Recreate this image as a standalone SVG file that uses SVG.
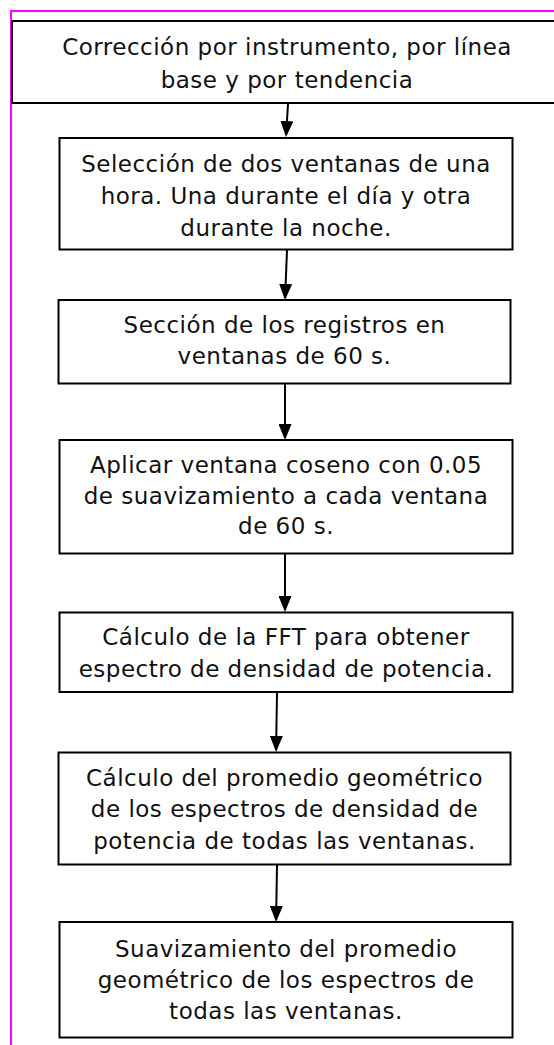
<svg xmlns="http://www.w3.org/2000/svg" width="554" height="1045" viewBox="0 0 554 1045">
<defs>
<style>
.box{fill:#fff;stroke:#000;stroke-width:2}
.t{font-family:"DejaVu Sans","Liberation Sans",sans-serif;font-size:23px;letter-spacing:0.5px;fill:#111;text-anchor:middle}
.c{stroke:#000;stroke-width:2;fill:none;marker-end:url(#ah)}
.frame{stroke:#ff00ff;stroke-width:2;fill:none}
</style>
<marker id="ah" markerUnits="userSpaceOnUse" viewBox="0 0 16 13" markerWidth="16" markerHeight="13" refX="14" refY="6.5" orient="auto">
<path d="M0,0 L16,6.5 L0,13 z" fill="#000"/>
</marker>
</defs>
<rect width="554" height="1045" fill="#fff"/>
<path class="frame" d="M11,1045 L11,11 L554,11"/>
<g id="connectors">
<line class="c" x1="288" y1="104" x2="286.1" y2="135"/>
<line class="c" x1="287" y1="250" x2="285.1" y2="298"/>
<line class="c" x1="285" y1="384" x2="285" y2="438"/>
<line class="c" x1="285" y1="554" x2="285" y2="610"/>
<line class="c" x1="277" y1="692" x2="276.1" y2="750"/>
<line class="c" x1="277" y1="865" x2="276.1" y2="920"/>
</g>
<g id="n1">
<rect class="box" x="12" y="21" width="560" height="82"/>
<text class="t" x="287" y="54.5">Corrección por instrumento, por línea</text>
<text class="t" x="287" y="87.5">base y por tendencia</text>
</g>
<g id="n2">
<rect class="box" x="59.5" y="138" width="453" height="111.5"/>
<text class="t" x="286" y="171.5">Selección de dos ventanas de una</text>
<text class="t" x="286" y="203.5">hora. Una durante el día y otra</text>
<text class="t" x="286" y="236">durante la noche.</text>
</g>
<g id="n3">
<rect class="box" x="58.5" y="300" width="452" height="83.5"/>
<text class="t" x="284.5" y="332.5">Sección de los registros en</text>
<text class="t" x="284.5" y="364">ventanas de 60 s.</text>
</g>
<g id="n4">
<rect class="box" x="59.5" y="440" width="453" height="113.5"/>
<text class="t" x="286" y="472.5">Aplicar ventana coseno con 0.05</text>
<text class="t" x="286" y="503.5">de suavizamiento a cada ventana</text>
<text class="t" x="286" y="534">de 60 s.</text>
</g>
<g id="n5">
<rect class="box" x="59.5" y="612.5" width="453" height="79.5"/>
<text class="t" x="286" y="645">Cálculo de la FFT para obtener</text>
<text class="t" x="286" y="676.5">espectro de densidad de potencia.</text>
</g>
<g id="n6">
<rect class="box" x="58.5" y="752.5" width="452" height="112"/>
<text class="t" x="284.5" y="785.5">Cálculo del promedio geométrico</text>
<text class="t" x="284.5" y="817">de los espectros de densidad de</text>
<text class="t" x="284.5" y="848.5">potencia de todas las ventanas.</text>
</g>
<g id="n7">
<rect class="box" x="59.5" y="922" width="453" height="115.5"/>
<text class="t" x="286" y="956.5">Suavizamiento del promedio</text>
<text class="t" x="286" y="987.5">geométrico de los espectros de</text>
<text class="t" x="286" y="1018.5">todas las ventanas.</text>
</g>
</svg>
